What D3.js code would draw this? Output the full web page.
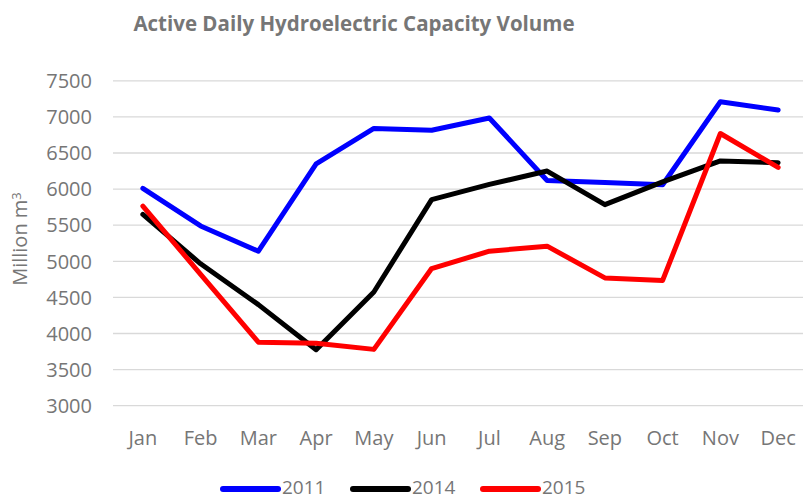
<!DOCTYPE html>
<html>
<head>
<meta charset="utf-8">
<script src="https://cdn.jsdelivr.net/npm/d3@7"></script>
<style>
  body { margin: 0; background: #fff; }
  text { font-family: "Open Sans", "Liberation Sans", sans-serif; fill: #767676; }
</style>
</head>
<body>
<div id="chart"></div>
<script>
document.addEventListener("DOMContentLoaded", function () {
  const width = 803, height = 500;

  // data
  const months = ["Jan", "Feb", "Mar", "Apr", "May", "Jun", "Jul", "Aug", "Sep", "Oct", "Nov", "Dec"];
  const yTicks = [3000, 3500, 4000, 4500, 5000, 5500, 6000, 6500, 7000, 7500];
  const seriesNames = ["2011", "2014", "2015"];
  const seriesColors = ["#0000ff", "#000000", "#ff0000"];
  const values2011 = [6010, 5490, 5140, 6350, 6840, 6815, 6985, 6120, 6090, 6060, 7210, 7095];
  const values2014 = [5650, 4965, 4400, 3775, 4575, 5855, 6065, 6250, 5785, 6100, 6390, 6365];
  const values2015 = [5765, 4820, 3880, 3865, 3780, 4900, 5140, 5210, 4770, 4735, 6770, 6300];
  const allValues = [values2011, values2014, values2015];

  const svg = d3.select("#chart").append("svg")
    .attr("width", width)
    .attr("height", height);

  // scales
  const x = d3.scalePoint()
    .domain(months)
    .range([114, 807])
    .padding(0.5);

  const y = d3.scaleLinear()
    .domain([3000, 7500])
    .range([405.7, 80.8]);

  // title
  svg.append("text")
    .attr("x", 354)
    .attr("y", 31)
    .attr("text-anchor", "middle")
    .style("font-size", "20.5px")
    .style("font-weight", "bold")
    .text("Active Daily Hydroelectric Capacity Volume");

  // gridlines
  svg.append("g")
    .selectAll("line")
    .data(yTicks)
    .enter().append("line")
    .attr("x1", 113)
    .attr("x2", width)
    .attr("y1", d => y(d))
    .attr("y2", d => y(d))
    .attr("stroke", "#d9d9d9")
    .attr("stroke-width", 1.3);

  // y tick labels
  svg.append("g")
    .selectAll("text")
    .data(yTicks)
    .enter().append("text")
    .attr("x", 92)
    .attr("y", d => y(d))
    .attr("dy", "0.36em")
    .attr("text-anchor", "end")
    .style("font-size", "20px")
    .text(d => d);

  // x tick labels
  svg.append("g")
    .selectAll("text")
    .data(months)
    .enter().append("text")
    .attr("x", d => x(d))
    .attr("y", 445)
    .attr("text-anchor", "middle")
    .style("font-size", "20px")
    .text(d => d);

  // y axis title
  const yTitle = svg.append("text")
    .attr("transform", "translate(27,239) rotate(-90)")
    .attr("text-anchor", "middle")
    .style("font-size", "20px");
  yTitle.append("tspan").text("Million m");
  yTitle.append("tspan").attr("dy", "-0.45em").style("font-size", "13px").text("3");

  // lines
  const line = d3.line()
    .x((d, i) => x(months[i]))
    .y(d => y(d));

  svg.append("g")
    .selectAll("path")
    .data(allValues)
    .enter().append("path")
    .attr("d", line)
    .attr("fill", "none")
    .attr("stroke", (d, i) => seriesColors[i])
    .attr("stroke-width", 5)
    .attr("stroke-linejoin", "round")
    .attr("stroke-linecap", "round");

  // legend
  const legendX = [223, 353, 483];
  const legend = svg.append("g")
    .selectAll("g")
    .data(seriesNames)
    .enter().append("g")
    .attr("transform", (d, i) => `translate(${legendX[i]},489)`);

  legend.append("line")
    .attr("x1", 0)
    .attr("x2", 55)
    .attr("stroke", (d, i) => seriesColors[i])
    .attr("stroke-width", 6)
    .attr("stroke-linecap", "round");

  legend.append("text")
    .attr("x", 59)
    .attr("y", 5)
    .style("font-size", "19px")
    .text(d => d);
});
</script>
</body>
</html>
